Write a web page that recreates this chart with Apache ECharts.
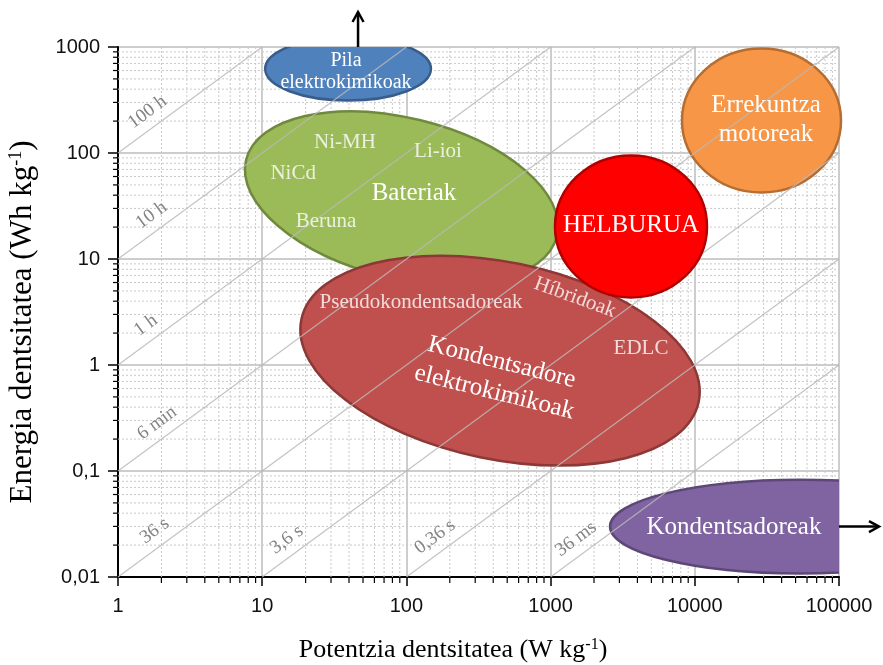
<!DOCTYPE html>
<html>
<head>
<meta charset="utf-8">
<script src="https://cdn.jsdelivr.net/npm/echarts@6/dist/echarts.min.js"></script>
<style>
  html, body { margin: 0; padding: 0; background: #fff; }
  #chart { width: 883px; height: 665px; }
</style>
</head>
<body>
<div id="chart"></div>
<script>
// ---- Axis ranges (log-log Ragone plane) ----
const powerRange = [1, 100000];      // W kg-1
const energyRange = [0.01, 1000];    // Wh kg-1
const minorSteps = [2, 3, 4, 5, 6, 7, 8, 9];

// ---- Constant discharge-time lines, E = P * t (t in hours) ----
const dischargeHours = [100, 10, 1, 0.1, 0.01, 0.001, 0.0001, 0.00001];
const dischargeLabels = ['100 h', '10 h', '1 h', '6 min', '36 s', '3,6 s', '0,36 s', '36 ms'];

// ---- Technology regions: centre [W/kg, Wh/kg], end of one semi-axis, minor/major ratio ----
const regionNames   = ['Pila elektrokimikoak', 'Bateriak', 'Kondentsadore elektrokimikoak',
                       'Kondentsadoreak', 'Errekuntza motoreak', 'HELBURUA'];
const regionCenters = [[39.4, 622], [92.5, 37.6], [446, 1.10], [53700, 0.0299], [29010, 202.6], [3610, 20.3]];
const regionAxisEnds = [[148, 622], [1106, 16.4], [10640, 0.45], [2582, 0.0299], [8150, 202.6], [12150, 20.3]];
const regionAspect  = [0.382, 0.5, 0.486, 0.247, 0.906, 0.934];

// ---- Text placed on the regions ----
const labelTexts = ['Pila\nelektrokimikoak', 'Ni-MH', 'Li-ioi', 'NiCd', 'Bateriak', 'Beruna',
                    'HELBURUA', 'Errekuntza\nmotoreak', 'Pseudokondentsadoreak', 'Híbridoak',
                    'EDLC', 'Kondentsadore\nelektrokimikoak', 'Kondentsadoreak'];
const labelAnchors = [[38.1, 580], [37.5, 125.7], [165.6, 103], [16.4, 64], [112.9, 41.5], [27.7, 22.6],
                      [3610, 20.7], [31190, 207], [126.3, 3.89], [1476, 4.33],
                      [4236, 1.43], [432, 0.762], [18700, 0.0293]];

// ---- Arrows pointing off the plot ----
const arrowStarts = [[46.2, 1000], [100000, 0.0299]];
const arrowDirections = ['up', 'right'];

// ---- Styling ----
const regionFill   = ['#4F81BD', '#9BBB59', '#C0504D', '#8064A2', '#F79646', '#FF0000'];
const regionStroke = ['#385D8A', '#71893F', '#8C3836', '#5C4776', '#B66D31', '#B00000'];
const regionClipped = ['Pila elektrokimikoak', 'Kondentsadoreak'];   // cut by the plot frame
const labelFont    = [20, 21, 21, 21, 25, 21, 25, 25, 21, 21, 21, 25, 25];
const labelLine    = [22, 24, 24, 24, 28, 24, 28, 29, 24, 24, 24, 31, 28];
const labelColor   = ['#FFFFFF', '#EBF1DE', '#EBF1DE', '#EBF1DE', '#FFFFFF', '#EBF1DE',
                      '#FFFFFF', '#FFFFFF', '#F2DCDB', '#F2DCDB', '#F2DCDB', '#FFFFFF', '#FFFFFF'];
const labelRotate  = [0, 0, 0, 0, 0, 0, 0, 0, 0, -20, 0, -14, 0];
const lineLabelShift = [48, 53, 46, 60, 57, 42, 47, 43];
const SERIF = '"Liberation Serif", "Times New Roman", serif';
const SANS = '"Liberation Sans", Arial, sans-serif';
const HELBURUA = regionNames.indexOf('HELBURUA');

// Minor grid values (2..9 within every decade)
function minorValues(range) {
  const out = [];
  for (let d = range[0]; d < range[1] * 0.999; d *= 10) {
    minorSteps.forEach(s => out.push(+(d * s).toPrecision(6)));
  }
  return out;
}
const xMinorData = minorValues(powerRange).map(v => [v, energyRange[0]]);
const yMinorData = minorValues(energyRange).map(v => [powerRange[0], v]);

// Region data rows: [cx, cy, ex, ey, aspect, index]
const regionRows = regionNames.map((n, i) =>
  [regionCenters[i][0], regionCenters[i][1], regionAxisEnds[i][0], regionAxisEnds[i][1], regionAspect[i], i]);
const isClipped = r => regionClipped.indexOf(regionNames[r[5]]) >= 0;

// Discharge lines clipped to the plotted window: [P0, E0, P1, E1, index]
const dischargeRows = dischargeHours.map((t, i) => {
  const p0 = Math.max(powerRange[0], energyRange[0] / t);
  const p1 = Math.min(powerRange[1], energyRange[1] / t);
  return [p0, p0 * t, p1, p1 * t, i];
});

const labelRows = labelAnchors.map((a, i) => [a[0], a[1], i]);
const arrowRows = arrowStarts.map((a, i) => [a[0], a[1], i]);

function renderMinorX(params, api) {
  const v = api.value(0);
  const b = api.coord([v, energyRange[0]]);
  const t = api.coord([v, energyRange[1]]);
  return {
    type: 'group', children: [
      { type: 'line', shape: { x1: b[0], y1: b[1], x2: t[0], y2: t[1] },
        style: { stroke: '#C9C9C9', lineWidth: 1, lineDash: [2, 2] } },
      { type: 'line', shape: { x1: b[0], y1: b[1], x2: b[0], y2: b[1] + 6 },
        style: { stroke: '#000', lineWidth: 1.2 } }
    ]
  };
}
function renderMinorY(params, api) {
  const v = api.value(1);
  const l = api.coord([powerRange[0], v]);
  const r = api.coord([powerRange[1], v]);
  return {
    type: 'group', children: [
      { type: 'line', shape: { x1: l[0], y1: l[1], x2: r[0], y2: r[1] },
        style: { stroke: '#C9C9C9', lineWidth: 1, lineDash: [2, 2] } },
      { type: 'line', shape: { x1: l[0] - 5, y1: l[1], x2: l[0], y2: l[1] },
        style: { stroke: '#000', lineWidth: 1.2 } }
    ]
  };
}
function renderRegion(params, api) {
  const i = api.value(5);
  const c = api.coord([api.value(0), api.value(1)]);
  const e = api.coord([api.value(2), api.value(3)]);
  const dx = e[0] - c[0], dy = e[1] - c[1];
  const a = Math.hypot(dx, dy);
  return {
    type: 'ellipse', x: c[0], y: c[1], rotation: -Math.atan2(dy, dx),
    shape: { cx: 0, cy: 0, rx: a, ry: a * api.value(4) },
    style: { fill: regionFill[i], stroke: regionStroke[i], lineWidth: 2.5 }
  };
}
function renderDischarge(params, api) {
  const i = api.value(4);
  const p0 = api.coord([api.value(0), api.value(1)]);
  const p1 = api.coord([api.value(2), api.value(3)]);
  const ang = Math.atan2(p1[1] - p0[1], p1[0] - p0[0]);
  const s = lineLabelShift[i];
  return {
    type: 'group', children: [
      { type: 'line', shape: { x1: p0[0], y1: p0[1], x2: p1[0], y2: p1[1] },
        style: { stroke: 'rgba(185,185,185,0.85)', lineWidth: 1.2 } },
      { type: 'text', x: p0[0] + Math.cos(ang) * s, y: p0[1] + Math.sin(ang) * s, rotation: -ang,
        style: { text: dischargeLabels[i], x: 0, y: -6, align: 'center', verticalAlign: 'bottom',
                 fill: '#838383', fontSize: 19, fontFamily: SERIF } }
    ]
  };
}
function renderLabel(params, api) {
  const i = api.value(2);
  const p = api.coord([api.value(0), api.value(1)]);
  return {
    type: 'text', x: p[0], y: p[1], rotation: labelRotate[i] * Math.PI / 180,
    style: { text: labelTexts[i], fill: labelColor[i], fontSize: labelFont[i], fontFamily: SERIF,
             lineHeight: labelLine[i], align: 'center', verticalAlign: 'middle' }
  };
}
function renderArrow(params, api) {
  const i = api.value(2);
  const p = api.coord([api.value(0), api.value(1)]);
  const up = arrowDirections[i] === 'up';
  const len = up ? 35 : 40;
  const ux = up ? 0 : 1, uy = up ? -1 : 0;
  const ex = p[0] + ux * len, ey = p[1] + uy * len;
  const h = 10, w = 0.55;
  const bx = ex - ux * h, by = ey - uy * h;
  const nx = -uy, ny = ux;
  return {
    type: 'group', children: [
      { type: 'line', shape: { x1: p[0], y1: p[1], x2: ex, y2: ey },
        style: { stroke: '#000', lineWidth: 2.5 } },
      { type: 'polyline', shape: { points: [[bx + nx * h * w, by + ny * h * w], [ex, ey], [bx - nx * h * w, by - ny * h * w]] },
        style: { stroke: '#000', lineWidth: 2.5, fill: null } }
    ]
  };
}

const chart = echarts.init(document.getElementById('chart'), null, { renderer: 'canvas' });
chart.setOption({
  animation: false,
  backgroundColor: '#fff',
  grid: { left: 118, top: 47, right: 44, bottom: 88, containLabel: false },
  xAxis: {
    type: 'log', logBase: 10, min: powerRange[0], max: powerRange[1],
    axisLine: { show: true, onZero: false, lineStyle: { color: '#000', width: 2 } },
    axisTick: { show: true, inside: false, length: 9, lineStyle: { color: '#000', width: 1.5 } },
    axisLabel: { margin: 19, fontSize: 20, fontFamily: SANS, color: '#111',
                 formatter: v => String(+(+v).toPrecision(6)) },
    splitLine: { show: true, lineStyle: { color: '#BDBDBD', width: 1.5 } },
    minorTick: { show: false }, minorSplitLine: { show: false }
  },
  yAxis: {
    type: 'log', logBase: 10, min: energyRange[0], max: energyRange[1],
    axisLine: { show: true, onZero: false, lineStyle: { color: '#000', width: 2 } },
    axisTick: { show: true, inside: false, length: 10, lineStyle: { color: '#000', width: 1.5 } },
    axisLabel: { margin: 18, fontSize: 20, fontFamily: SANS, color: '#111',
                 formatter: v => String(+(+v).toPrecision(6)).replace('.', ',') },
    splitLine: { show: true, lineStyle: { color: '#BDBDBD', width: 1.5 } },
    minorTick: { show: false }, minorSplitLine: { show: false }
  },
  graphic: [
    { type: 'text', x: 453, y: 650, z: 10,
      style: { text: '{t|Potentzia dentsitatea (W kg}{s|-1}{t|)}', align: 'center', verticalAlign: 'middle',
               rich: { t: { fontSize: 26, fontFamily: SERIF, fill: '#000' },
                       s: { fontSize: 16, fontFamily: SERIF, fill: '#000', verticalAlign: 'top' } } } },
    { type: 'text', x: 23, y: 322, rotation: Math.PI / 2, z: 10,
      style: { text: '{t|Energia dentsitatea (Wh kg}{s|-1}{t|)}', align: 'center', verticalAlign: 'middle',
               rich: { t: { fontSize: 31, fontFamily: SERIF, fill: '#000' },
                       s: { fontSize: 18, fontFamily: SERIF, fill: '#000', verticalAlign: 'top' } } } }
  ],
  series: [
    { type: 'custom', name: 'minor-x', data: xMinorData, renderItem: renderMinorX, z: 1, silent: true, clip: false },
    { type: 'custom', name: 'minor-y', data: yMinorData, renderItem: renderMinorY, z: 1, silent: true, clip: false },
    { type: 'custom', name: 'regions-framed', data: regionRows.filter(r => isClipped(r)),
      renderItem: renderRegion, z: 2, clip: true },
    { type: 'custom', name: 'regions', data: regionRows.filter(r => !isClipped(r) && r[5] !== HELBURUA),
      renderItem: renderRegion, z: 2, clip: false },
    { type: 'custom', name: 'discharge', data: dischargeRows, renderItem: renderDischarge, z: 3, clip: false },
    { type: 'custom', name: 'HELBURUA', data: regionRows.filter(r => r[5] === HELBURUA),
      renderItem: renderRegion, z: 4, clip: false },
    { type: 'custom', name: 'labels', data: labelRows, renderItem: renderLabel, z: 5, clip: false },
    { type: 'custom', name: 'arrows', data: arrowRows, renderItem: renderArrow, z: 6, clip: false }
  ]
});
</script>
</body>
</html>
